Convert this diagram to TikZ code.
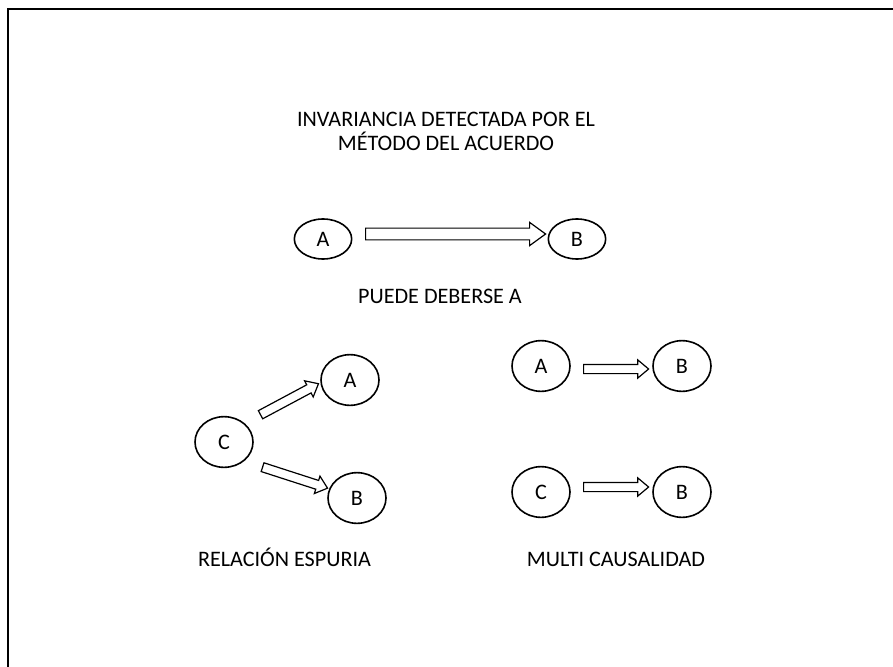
\documentclass[tikz,border=0pt]{standalone}
\usepackage{fontspec}
\setmainfont{Carlito}
\usetikzlibrary{shapes.geometric, shapes.arrows}

\begin{document}
\begin{tikzpicture}[x=0.75pt, y=-0.75pt,
		every node/.style={font=\fontsize{16.6}{18}\selectfont},
		elipse/.style={draw, ellipse, line width=1.2pt, inner sep=0pt, minimum width=43.5pt, minimum height=38pt},
		flecha/.style={draw, single arrow, line width=0.9pt, inner xsep=0pt, inner ysep=3pt, single arrow head indent=0pt,
			single arrow tip angle=80, single arrow head extend=3.4pt},
		flechagrande/.style={flecha, inner ysep=3.95pt, single arrow tip angle=72, single arrow head extend=4.3pt}]
		\useasboundingbox (0,0) rectangle (893,667);
		\draw[line width=1pt] (8,9) rectangle (910,690);

		% Nodos
		\node[align=center] (titulo) at (446,131) {INVARIANCIA DETECTADA POR EL\\MÉTODO DEL ACUERDO};
		\node[elipse, minimum width=43pt, minimum height=30pt] (A) at (323,239) {A};
		\node[elipse, minimum width=43pt, minimum height=30pt] (B) at (577,239) {B};
		\node[anchor=base] (puede) at (440,303) {PUEDE DEBERSE A};

		\node[elipse] (C_1) at (224,442) {C};
		\node[elipse] (A_1) at (350,380) {A};
		\node[elipse] (B_1) at (357,498) {B};
		\node[anchor=base] (espuria) at (284.5,566) {RELACIÓN ESPURIA};

		\node[elipse] (A_2) at (541,366) {A};
		\node[elipse] (B_2) at (682,366) {B};
		\node[elipse] (C_3) at (541,492) {C};
		\node[elipse] (B_3) at (682,492) {B};
		\node[anchor=base] (multi) at (616,566) {MULTI CAUSALIDAD};

		% Flechas
		\coordinate (f_a) at (365,234);
		\coordinate (f_b) at (545,234);
		\path (f_a) -- (f_b) node[pos=0, sloped, anchor=tail, flechagrande, minimum height=135pt] {};

		\coordinate (e_1) at (260,415);
		\coordinate (e_2) at (318,384);
		\path (e_1) -- (e_2) node[pos=0, sloped, anchor=tail, flecha, minimum height=49.3pt] {};
		\coordinate (e_3) at (262,467);
		\coordinate (e_4) at (327,488);
		\path (e_3) -- (e_4) node[pos=0, sloped, anchor=tail, flecha, minimum height=51.2pt] {};

		\coordinate (m_1) at (583,369);
		\coordinate (m_2) at (648,369);
		\path (m_1) -- (m_2) node[pos=0, sloped, anchor=tail, flecha, minimum height=48.75pt] {};
		\coordinate (m_3) at (583,487);
		\coordinate (m_4) at (648,487);
		\path (m_3) -- (m_4) node[pos=0, sloped, anchor=tail, flecha, minimum height=48.75pt] {};
	\end{tikzpicture}
\end{document}
